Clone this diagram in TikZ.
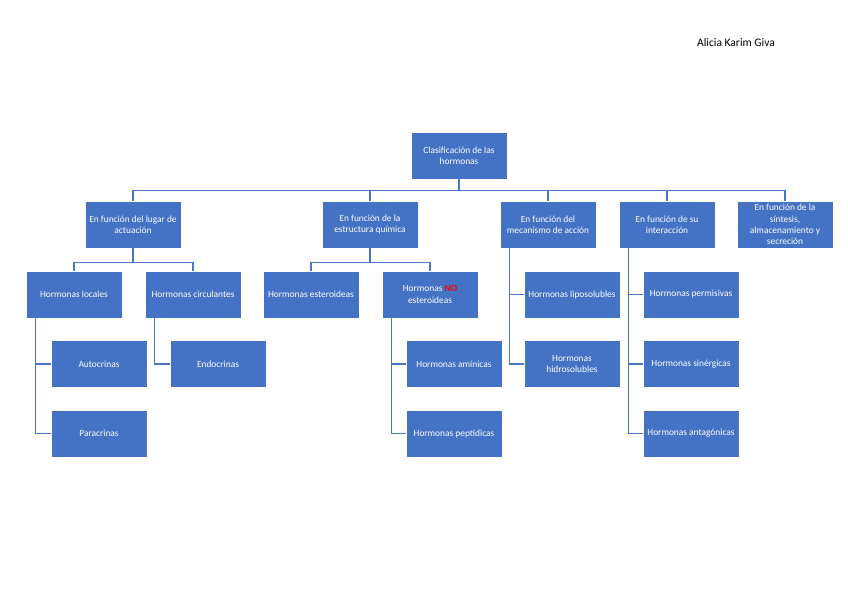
\documentclass[tikz,border=0pt]{standalone}
\usepackage{fontspec}
\setmainfont{Carlito}
\definecolor{boxblue}{HTML}{4472C4}
\definecolor{lineblue}{HTML}{4A76C6}
\definecolor{nored}{HTML}{FF0000}
\begin{document}
\begin{tikzpicture}[x=1pt,y=-1pt,
  box/.style={draw=white,line width=0.7pt,fill=boxblue,text=white,
    minimum width=96pt,minimum height=47pt,inner sep=1pt,align=center,
    font=\fontsize{9.4}{11.3}\selectfont},
  conn/.style={draw=lineblue,line width=1.3pt}]
\useasboundingbox (0,0) rectangle (848,599);
\node[font=\fontsize{11.5}{13}\selectfont] (author) at (736,43) {Alicia Karim Giva};
% root
\node[box] (root) at (459,155.5) {Clasificación de las\\hormonas};
% level 1
\node[box] (A) at (133,224.5) {En función del lugar de\\actuación};
\node[box] (B) at (370,224.5) {En función de la\\estructura química};
\node[box] (C) at (548,224.5) {En función del\\mecanismo de acción};
\node[box] (D) at (667,224.5) {En función de su\\interacción};
\node[box] (E) at (785,224.5) {En función de la\\síntesis,\\almacenamiento y\\secreción};
% level 2
\node[box] (loc) at (74,294.5) {Hormonas locales};
\node[box] (circ) at (193,294.5) {Hormonas circulantes};
\node[box] (ester) at (311,294.5) {Hormonas esteroideas};
\node[box] (noester) at (430,294.5) {Hormonas {\color{nored}\bfseries NO}\\esteroideas};
\node[box] (lipo) at (572,294.5) {Hormonas liposolubles};
\node[box] (hidro) at (572,364) {Hormonas\\hidrosolubles};
\node[box] (perm) at (691,294.5) {Hormonas permisivas};
\node[box] (siner) at (691,364) {Hormonas sinérgicas};
\node[box] (antag) at (691,433.5) {Hormonas antagónicas};
% level 3
\node[box] (auto) at (99,364) {Autocrinas};
\node[box] (para) at (99,433.5) {Paracrinas};
\node[box] (endo) at (218,364) {Endocrinas};
\node[box] (amin) at (454,364) {Hormonas amínicas};
\node[box] (pept) at (454,433.5) {Hormonas peptídicas};
% connectors
\foreach \c in {A,B,C,D,E}
  \draw[conn] (root.south) -- ++(0,11) -| (\c.north);
\foreach \c in {loc,circ}
  \draw[conn] (A.south) -- ++(0,14) -| (\c.north);
\foreach \c in {ester,noester}
  \draw[conn] (B.south) -- ++(0,14) -| (\c.north);
\foreach \c in {lipo,hidro}
  \draw[conn] ([xshift=10pt]C.south west) |- (\c.west);
\foreach \c in {perm,siner,antag}
  \draw[conn] ([xshift=9.5pt]D.south west) |- (\c.west);
\foreach \c in {auto,para}
  \draw[conn] ([xshift=9.5pt]loc.south west) |- (\c.west);
\draw[conn] ([xshift=9.5pt]circ.south west) |- (endo.west);
\foreach \c in {amin,pept}
  \draw[conn] ([xshift=9.5pt]noester.south west) |- (\c.west);
\end{tikzpicture}
\end{document}
